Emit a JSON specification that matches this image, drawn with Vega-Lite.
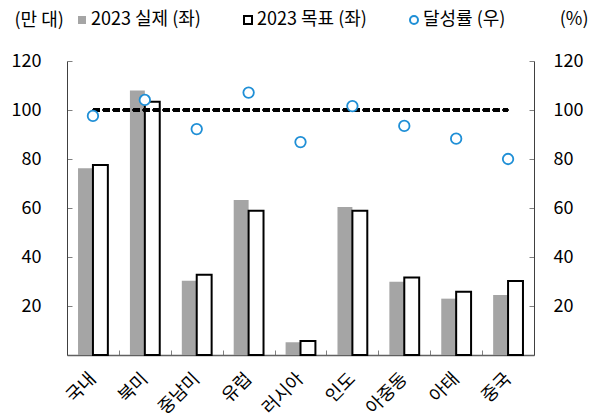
{
  "$schema": "https://vega.github.io/schema/vega-lite/v6.json",
  "width": 467,
  "height": 294,
  "autosize": {"type": "none"},
  "padding": {"left": 67, "top": 61, "right": 64, "bottom": 63},
  "config": {
    "view": {"stroke": null},
    "font": "Noto Sans CJK KR",
    "axis": {"labelFont": "Noto Sans CJK KR", "labelFontSize": 18, "labelColor": "#000000", "grid": false, "titleFont": "Noto Sans CJK KR", "titleFontSize": 18, "titleFontWeight": "normal", "titleColor": "#000000"},
    "axisX": {"title": null, "labelAngle": -45, "labelAlign": "right", "labelBaseline": "middle", "tickBand": "extent", "tickSize": -5, "labelPadding": 26, "domainColor": "#606060", "domainWidth": 1.5, "tickColor": "#808080"},
    "legend": {"labelFont": "Noto Sans CJK KR", "labelFontSize": 18, "labelColor": "#000000"}
  },
  "data": {
    "values": [
      {"region": "국내", "series": "2023 실제 (좌)", "value": 76.2},
      {"region": "국내", "series": "2023 목표 (좌)", "value": 77.6},
      {"region": "국내", "series": "달성률 (우)", "value": 97.6},
      {"region": "북미", "series": "2023 실제 (좌)", "value": 108.0},
      {"region": "북미", "series": "2023 목표 (좌)", "value": 103.4},
      {"region": "북미", "series": "달성률 (우)", "value": 104.1},
      {"region": "중남미", "series": "2023 실제 (좌)", "value": 30.3},
      {"region": "중남미", "series": "2023 목표 (좌)", "value": 32.8},
      {"region": "중남미", "series": "달성률 (우)", "value": 92.2},
      {"region": "유럽", "series": "2023 실제 (좌)", "value": 63.3},
      {"region": "유럽", "series": "2023 목표 (좌)", "value": 58.9},
      {"region": "유럽", "series": "달성률 (우)", "value": 107.1},
      {"region": "러시아", "series": "2023 실제 (좌)", "value": 5.2},
      {"region": "러시아", "series": "2023 목표 (좌)", "value": 5.7},
      {"region": "러시아", "series": "달성률 (우)", "value": 86.9},
      {"region": "인도", "series": "2023 실제 (좌)", "value": 60.4},
      {"region": "인도", "series": "2023 목표 (좌)", "value": 58.9},
      {"region": "인도", "series": "달성률 (우)", "value": 101.6},
      {"region": "아중동", "series": "2023 실제 (좌)", "value": 29.9},
      {"region": "아중동", "series": "2023 목표 (좌)", "value": 31.6},
      {"region": "아중동", "series": "달성률 (우)", "value": 93.5},
      {"region": "아태", "series": "2023 실제 (좌)", "value": 23.0},
      {"region": "아태", "series": "2023 목표 (좌)", "value": 25.8},
      {"region": "아태", "series": "달성률 (우)", "value": 88.3},
      {"region": "중국", "series": "2023 실제 (좌)", "value": 24.5},
      {"region": "중국", "series": "2023 목표 (좌)", "value": 30.2},
      {"region": "중국", "series": "달성률 (우)", "value": 80.0}
    ]
  },
  "layer": [
    {
      "transform": [{"filter": "datum.series != '달성률 (우)'"}],
      "mark": {"type": "bar", "strokeWidth": 2, "opacity": 1},
      "encoding": {
        "x": {
          "field": "region", "type": "nominal",
          "sort": ["국내", "북미", "중남미", "유럽", "러시아", "인도", "아중동", "아태", "중국"],
          "scale": {"paddingInner": 0, "paddingOuter": 0},
          "axis": {"labelAngle": -45}
        },
        "xOffset": {
          "field": "series", "type": "nominal",
          "scale": {"domain": ["2023 실제 (좌)", "2023 목표 (좌)"], "paddingInner": 0, "paddingOuter": 0.74}
        },
        "y": {
          "field": "value", "type": "quantitative",
          "scale": {"domain": [0, 120], "nice": false},
          "axis": {"values": [20, 40, 60, 80, 100, 120], "tickSize": -5, "labelPadding": 31, "domainColor": "#404040", "tickColor": "#808080",
                   "title": "(만 대)", "titleAngle": 0, "titleAlign": "left", "titleBaseline": "middle", "titleX": -53, "titleY": -41}
        },
        "fill": {
          "field": "series", "type": "nominal",
          "scale": {"domain": ["2023 실제 (좌)", "2023 목표 (좌)", "달성률 (우)"], "range": ["#a5a5a5", "#ffffff", "#ffffff"]},
          "legend": {"orient": "none", "legendX": 6, "legendY": -50, "direction": "horizontal", "title": null, "symbolSize": 64, "symbolStrokeWidth": 2, "labelOffset": 0, "columnPadding": 38, "symbolOpacity": 1}
        },
        "stroke": {
          "field": "series", "type": "nominal",
          "scale": {"domain": ["2023 실제 (좌)", "2023 목표 (좌)", "달성률 (우)"], "range": ["transparent", "#000000", "#1f8fd6"]}
        }
      }
    },
    {
      "mark": {"type": "rule", "strokeDash": [7, 3], "strokeWidth": 2.5, "color": "#000000"},
      "encoding": {
        "x": {"datum": "국내", "type": "nominal", "axis": {"labelAngle": -45}},
        "x2": {"datum": "중국"},
        "y": {"datum": 100, "type": "quantitative", "scale": {"domain": [0, 120], "nice": false}, "axis": null}
      }
    },
    {
      "transform": [{"filter": "datum.series == '달성률 (우)'"}],
      "mark": {"type": "point", "size": 110, "strokeWidth": 1.8, "opacity": 1},
      "encoding": {
        "x": {"field": "region", "type": "nominal", "sort": ["국내", "북미", "중남미", "유럽", "러시아", "인도", "아중동", "아태", "중국"], "axis": {"labelAngle": -45}},
        "y": {
          "field": "value", "type": "quantitative",
          "scale": {"domain": [0, 120], "nice": false},
          "axis": {"orient": "right", "values": [20, 40, 60, 80, 100, 120], "tickSize": -5, "labelPadding": 24, "domainColor": "#404040", "tickColor": "#808080",
                   "title": "(%)", "titleAngle": 0, "titleAlign": "right", "titleBaseline": "middle", "titleX": 54, "titleY": -42}
        },
        "fill": {"field": "series", "type": "nominal", "scale": {"domain": ["2023 실제 (좌)", "2023 목표 (좌)", "달성률 (우)"], "range": ["#a5a5a5", "#ffffff", "#ffffff"]}},
        "stroke": {"field": "series", "type": "nominal", "scale": {"domain": ["2023 실제 (좌)", "2023 목표 (좌)", "달성률 (우)"], "range": ["transparent", "#000000", "#1f8fd6"]}},
        "shape": {"field": "series", "type": "nominal", "scale": {"domain": ["2023 실제 (좌)", "2023 목표 (좌)", "달성률 (우)"], "range": ["square", "square", "circle"]}}
      }
    }
  ],
  "resolve": {"scale": {"y": "independent"}}
}
